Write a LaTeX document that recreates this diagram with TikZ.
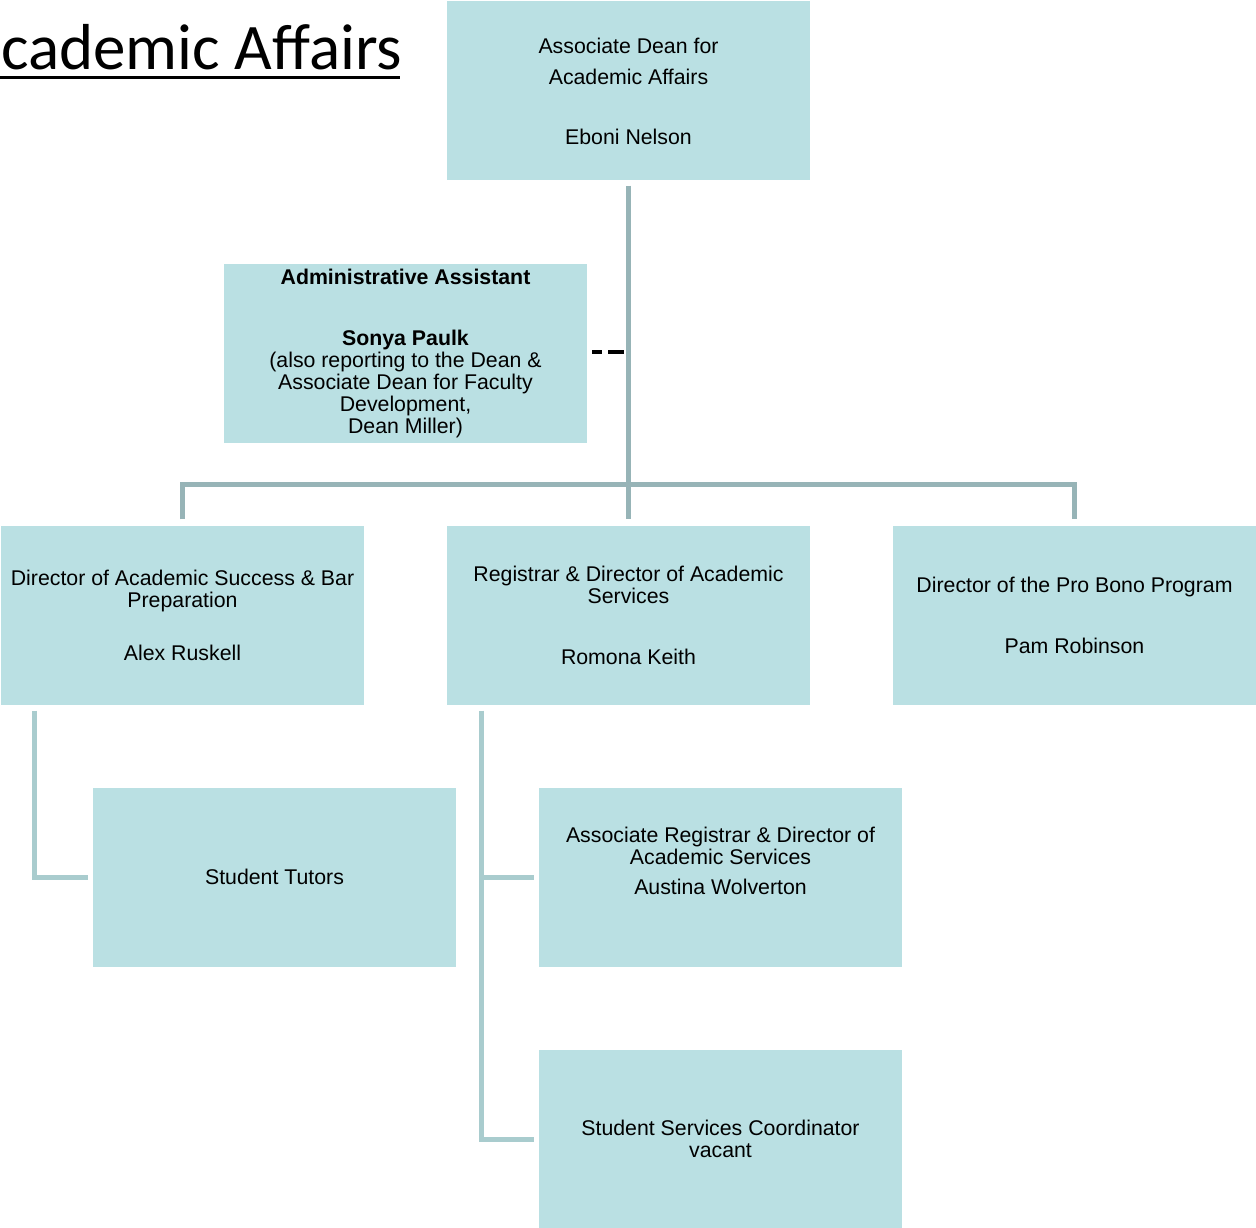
\documentclass[tikz,border=0pt]{standalone}
\usepackage{fontspec}
\setmainfont{Liberation Sans}
\newfontfamily\titlefont{Carlito}
\usetikzlibrary{calc}
\definecolor{boxc}{HTML}{BAE0E3}
\definecolor{upc}{HTML}{97B4B7}
\definecolor{lowc}{HTML}{A9CCCE}
\tikzset{
  box/.style={fill=boxc, draw=none, minimum width=363pt, minimum height=179pt, inner sep=0pt, align=center, font=\fontsize{21.3}{22}\selectfont},
  upline/.style={draw=upc, line width=5pt},
  lowline/.style={draw=lowc, line width=5pt},
}
\begin{document}
\begin{tikzpicture}[x=1pt,y=-1pt]
\useasboundingbox (0,0) rectangle (1256,1228);
% title
\node[anchor=base west, inner sep=0pt, font=\titlefont\fontsize{65}{65}\selectfont] (title) at (1,70) {cademic Affairs};
\draw[line width=3pt] (0,78) -- (400,78);
% boxes
\node[box, font=\fontsize{21.3}{31}\selectfont] (top) at (628.5,91) {Associate Dean for\\Academic Affairs\\[29pt]Eboni Nelson};
\node[box] (admin) at (405.5,353) {\textbf{Administrative Assistant}\\[39pt]\textbf{Sonya Paulk}\\(also reporting to the Dean \&\\Associate Dean for Faculty\\Development,\\Dean Miller)};
\node[box] (left) at (182.5,615) {Director of Academic Success \& Bar\\Preparation\\[31pt]Alex Ruskell};
\node[box] (mid) at (628.5,615) {Registrar \& Director of Academic\\Services\\[39pt]Romona Keith};
\node[box] (right) at (1074.5,615) {Director of the Pro Bono Program\\[39pt]Pam Robinson};
\node[box] (tutors) at (274.5,877) {Student Tutors};
\node[box] (assoc) at (720.5,877) {\raisebox{0pt}[0pt][0pt]{}\\[-6pt]Associate Registrar \& Director of\\Academic Services\\[8pt]Austina Wolverton\\[12pt]\mbox{}};
\node[box] (ssc) at (720.5,1139) {Student Services Coordinator\\vacant};
% connectors
\coordinate (bus) at (628.5,484.5);
\draw[upline] ($(top.south)+(0,5)$) -- ($(mid.north)+(0,-6)$);
\draw[upline, line join=miter] ($(left.north)+(0,-6)$) |- (bus) -| ($(right.north)+(0,-6)$);
\draw[lowline, line join=miter] ($(left.south west)+(34,6)$) |- ($(tutors.west)+(-5,0)$);
\coordinate (midtrunk) at ($(mid.south west)+(35,6)$);
\draw[lowline, line join=miter] (midtrunk) |- ($(ssc.west)+(-5,0)$);
\draw[lowline] (midtrunk |- assoc.west) -- ($(assoc.west)+(-5,0)$);
% dotted relation
\draw[line width=4pt, dash pattern=on 10pt off 6pt on 16pt off 20pt] ($(admin.east)+(5,-1)$) -- ($(admin.east)+(37,-1)$);
\end{tikzpicture}
\end{document}
